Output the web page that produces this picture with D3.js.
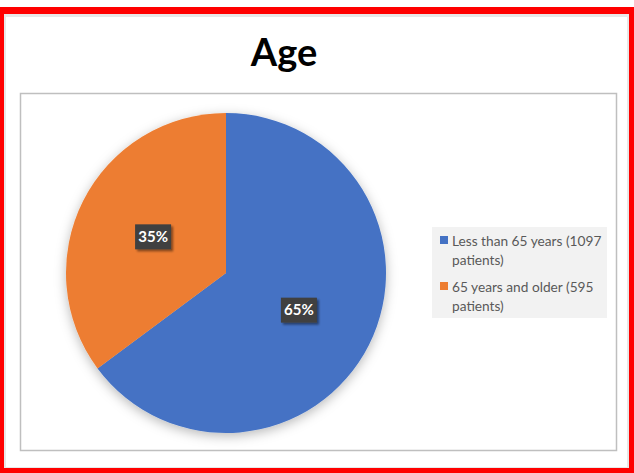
<!DOCTYPE html>
<html>
<head>
<meta charset="utf-8">
<style>
	body { margin: 0; background: #fff; }
	svg { display: block; }
</style>
<script src="https://d3js.org/d3.v7.min.js"></script>
</head>
<body>
<svg width="634" height="473"></svg>
<script>
	// chart data
	var categories = ["Less than 65 years (1097 patients)", "65 years and older (595 patients)"];
	var legendLines = [["Less than 65 years (1097", "patients)"], ["65 years and older (595", "patients)"]];
	var patients = [1097, 595];
	var pctLabels = ["65%", "35%"];
	var colors = ["#4472c4", "#ed7d31"];

	var svg = d3.select("svg");
	var defs = svg.append("defs");

	var sh = defs.append("filter").attr("id", "pieShadow")
		.attr("x", "-20%").attr("y", "-20%").attr("width", "140%").attr("height", "140%");
	sh.append("feDropShadow").attr("dx", 0).attr("dy", 3).attr("stdDeviation", 6)
		.attr("flood-color", "#000").attr("flood-opacity", 0.28);

	var lsh = defs.append("filter").attr("id", "lblShadow")
		.attr("x", "-30%").attr("y", "-30%").attr("width", "160%").attr("height", "160%");
	lsh.append("feDropShadow").attr("dx", 2).attr("dy", 2).attr("stdDeviation", 1.2)
		.attr("flood-color", "#000").attr("flood-opacity", 0.45);

	// outer frame
	svg.append("rect").attr("x", 0).attr("y", 7).attr("width", 634).attr("height", 466).attr("fill", "#ff0000");
	svg.append("rect").attr("x", 4).attr("y", 14).attr("width", 625).attr("height", 454).attr("fill", "#e8e8e8");
	svg.append("rect").attr("x", 6).attr("y", 17).attr("width", 621).attr("height", 450).attr("fill", "#ffffff");

	// title
	svg.append("text")
		.attr("x", 284).attr("y", 66)
		.attr("text-anchor", "middle")
		.attr("font-family", "Lato, 'Open Sans', sans-serif")
		.attr("font-weight", "bold")
		.attr("font-size", 38)
		.attr("fill", "#000")
		.text("Age");

	// plot area
	svg.append("rect")
		.attr("x", 20.5).attr("y", 93.5).attr("width", 596).attr("height", 357)
		.attr("fill", "#fff").attr("stroke", "#bfbfbf").attr("stroke-width", 1.5);

	var cx = 226, cy = 273, r = 160;
	var pie = d3.pie().sort(null)(patients);
	var arc = d3.arc().innerRadius(0).outerRadius(r);

	var g = svg.append("g").attr("transform", "translate(" + cx + "," + cy + ")");
	g.append("g").attr("filter", "url(#pieShadow)")
		.selectAll("path")
		.data(pie)
		.enter().append("path")
		.attr("d", arc)
		.attr("fill", function(d, i) { return colors[i]; });

	// data labels
	var lblArc = d3.arc().innerRadius(r * 0.51).outerRadius(r * 0.51);
	var labels = g.selectAll(".lbl")
		.data(pie)
		.enter().append("g")
		.attr("class", "lbl")
		.attr("transform", function(d) {
			var c = lblArc.centroid(d);
			return "translate(" + c[0] + "," + c[1] + ")";
		});
	labels.append("rect")
		.attr("x", -18).attr("y", -12).attr("width", 36).attr("height", 25)
		.attr("fill", "#404040")
		.attr("filter", "url(#lblShadow)");
	labels.append("text")
		.attr("text-anchor", "middle")
		.attr("y", 5.5)
		.attr("font-family", "Lato, 'Open Sans', sans-serif")
		.attr("font-weight", "bold")
		.attr("font-size", 15)
		.attr("fill", "#fff")
		.text(function(d, i) { return pctLabels[i]; });

	// legend
	var leg = svg.append("g").attr("transform", "translate(432,227)");
	leg.append("rect").attr("width", 175).attr("height", 91).attr("fill", "#f2f2f2");
	var items = leg.selectAll(".item")
		.data(categories)
		.enter().append("g")
		.attr("class", "item")
		.attr("transform", function(d, i) { return "translate(0," + (i * 46) + ")"; });
	items.append("rect")
		.attr("x", 8).attr("y", 9).attr("width", 8).attr("height", 8)
		.attr("fill", function(d, i) { return colors[i]; });
	items.each(function(d, i) {
		var t = d3.select(this).append("text")
			.attr("font-family", "Lato, 'Open Sans', sans-serif")
			.attr("font-size", 13.7)
			.attr("fill", "#595959");
		legendLines[i].forEach(function(line, j) {
			t.append("tspan").attr("x", 20).attr("y", 19 + j * 19).text(line);
		});
	});
</script>
</body>
</html>
